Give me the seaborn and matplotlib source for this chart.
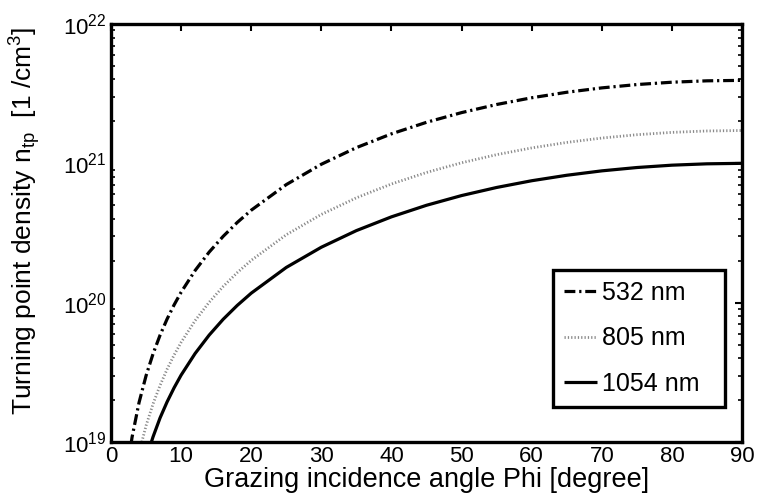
import matplotlib
matplotlib.use("Agg")
import matplotlib.pyplot as plt
import seaborn as sns
import numpy as np
import pandas as pd
from matplotlib.ticker import FixedLocator, FixedFormatter, LogLocator, NullFormatter

# Data, densities in units of 1e21 1/cm^3
angle = [2, 3, 4, 5, 6, 7, 8, 9, 10, 12, 14, 16, 18, 20, 25, 30, 35, 40, 45,
         50, 55, 60, 65, 70, 75, 80, 85, 90]
n_532 = [0.0048, 0.0108, 0.0192, 0.0299, 0.0430, 0.0585, 0.0763, 0.0964, 0.1188,
         0.1703, 0.2306, 0.2993, 0.3762, 0.4609, 0.7037, 0.985, 1.2962, 1.6279,
         1.97, 2.3121, 2.6438, 2.955, 3.2363, 3.4791, 3.6761, 3.8212, 3.9101, 3.94]
n_805 = [0.0021, 0.00471, 0.00837, 0.0131, 0.0188, 0.0255, 0.0333, 0.0421, 0.0519,
         0.0744, 0.1007, 0.1307, 0.1642, 0.2012, 0.3072, 0.43, 0.5659, 0.7107,
         0.86, 1.0093, 1.1541, 1.29, 1.4128, 1.5188, 1.6048, 1.6681, 1.7069, 1.72]
n_1054 = [0.00122, 0.00274, 0.00487, 0.0076, 0.0109, 0.0149, 0.0194, 0.0245, 0.0302,
          0.0432, 0.0585, 0.076, 0.0955, 0.117, 0.179, 0.25, 0.329, 0.413, 0.5,
          0.587, 0.671, 0.75, 0.821, 0.883, 0.933, 0.970, 0.992, 1.0]
labels = ["532 nm", "805 nm", "1054 nm"]
x_ticks = [0, 10, 20, 30, 40, 50, 60, 70, 80, 90]
y_ticks = [1e19, 1e20, 1e21, 1e22]
y_ticklabels = [r"$\mathregular{10^{19}}$", r"$\mathregular{10^{20}}$",
                r"$\mathregular{10^{21}}$", r"$\mathregular{10^{22}}$"]

sns.set_style("white")
plt.rcParams["font.family"] = ["Liberation Sans", "DejaVu Sans"]
plt.rcParams["mathtext.default"] = "regular"
for k in ["text.color", "axes.labelcolor", "xtick.color", "ytick.color"]:
    plt.rcParams[k] = "black"

fig = plt.figure(figsize=(7.61, 5.03), dpi=100)
ax = fig.add_axes([111/761, 61/503, 631/761, 418/503])

series = [n_532, n_805, n_1054]
styles = [dict(color="black", lw=2.3, dashes=(3.4, 1.2, 0.7, 1.2)),
          dict(color="#8a8a8a", lw=2.0, dashes=(0.45, 0.75)),
          dict(color="black", lw=2.3, dashes=None)]
for vals, lab, st in zip(series, labels, styles):
    df = pd.DataFrame({"angle": angle, "n": [v * 1e21 for v in vals]})
    sns.lineplot(data=df, x="angle", y="n", ax=ax, color=st["color"], lw=st["lw"],
                 label=lab, legend=False)
    line = ax.get_lines()[-1]
    if st["dashes"] is not None:
        line.set_dashes(st["dashes"])
    line.set_solid_capstyle("butt")

ax.set_yscale("log")
ax.set_xlim(0, 90)
ax.set_ylim(1e19, 1e22)
ax.xaxis.set_major_locator(FixedLocator(x_ticks))
ax.set_xticklabels([str(t) for t in x_ticks])
ax.yaxis.set_major_locator(FixedLocator(y_ticks))
ax.yaxis.set_major_formatter(FixedFormatter(y_ticklabels))
ax.yaxis.set_minor_locator(LogLocator(base=10, subs=np.arange(2, 10)))
ax.yaxis.set_minor_formatter(NullFormatter())

ax.tick_params(axis="both", which="major", direction="in", length=5, width=1.5,
               top=True, right=True, labelsize=16, pad=3)
ax.tick_params(axis="y", which="minor", direction="in", length=3, width=1.2,
               left=True, right=True)
for sp in ax.spines.values():
    sp.set_linewidth(2.4)
    sp.set_color("black")

ax.set_xlabel("Grazing incidence angle Phi [degree]", fontsize=19.5)
ax.xaxis.set_label_coords(0.5, -0.06)
ax.set_ylabel(r"Turning point density n$_{tp}$  [1 /cm$^{3}$]", fontsize=19)
ax.yaxis.set_label_coords(-0.108, 0.53)

leg = ax.legend(loc="lower left", bbox_to_anchor=(0.7005, 0.0837, 0.2726, 0.3),
                mode="expand", borderaxespad=0,
                fontsize=18, frameon=True, fancybox=False, framealpha=1,
                handlelength=1.3, handletextpad=0.2, labelspacing=0.86,
                borderpad=0.45)
leg.get_frame().set_edgecolor("black")
leg.get_frame().set_linewidth(2.4)

fig.savefig("out.png", dpi=100)
